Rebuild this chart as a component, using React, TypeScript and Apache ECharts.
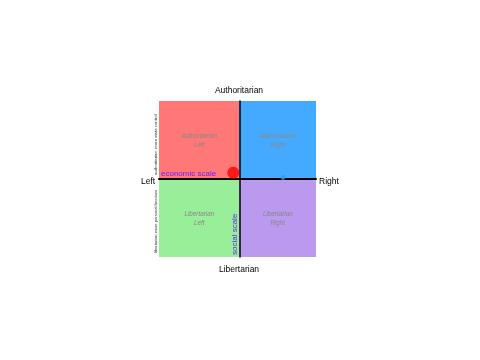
import React, { useEffect, useRef } from "react";
import * as echarts from "echarts";

const quadrantNames = ["Authoritarian\nLeft", "Authoritarian\nRight", "Libertarian\nLeft", "Libertarian\nRight"];
const quadrantColors = ["#ff7777", "#44aaff", "#99ee99", "#bb99ee"];
const axisTitles = { top: "Authoritarian", bottom: "Libertarian", left: "Left", right: "Right" };
const xBounds = [-10, 9.5];
const yBounds = [-10, 10];
const positions = [
  { name: "you", value: [-0.78, 0.8], color: "#ff0000", size: 12 },
  { name: "other", value: [5.4, 0.2], color: "#3399ee", size: 5 },
];
const sideNotes = ["authoritarian: more state control", "libertarian: more personal freedom"];

const FONT = "Liberation Sans";

export default function App() {
  const ref = useRef<HTMLDivElement>(null);
  useEffect(() => {
    const chart = echarts.init(ref.current!, null, { renderer: "svg" });
    const qLabel = {
      show: true,
      position: "inside",
      color: "#888",
      fontStyle: "italic",
      fontSize: 6.3,
      lineHeight: 9,
      fontFamily: FONT,
    };
    const [x0, x1] = xBounds;
    const [y0, y1] = yBounds;
    const areas = [
      [[x0, y1], [0, 0]],
      [[0, y1], [x1, 0]],
      [[x0, 0], [0, y0]],
      [[0, 0], [x1, y0]],
    ].map((a, i) => [
      { coord: a[0], name: quadrantNames[i], itemStyle: { color: quadrantColors[i], opacity: 1 }, label: qLabel },
      { coord: a[1] },
    ]);
    const t = (o: any) => ({ type: "text", z: 100, ...o });
    chart.setOption({
      animation: false,
      grid: { left: 159, right: 164, top: 101, bottom: 103 },
      xAxis: {
        type: "value", min: x0, max: x1,
        axisLine: { onZero: true, lineStyle: { color: "#000", width: 2 } },
        axisTick: { show: false }, axisLabel: { show: false }, splitLine: { show: false },
        z: 10,
      },
      yAxis: {
        type: "value", min: y0, max: y1,
        axisLine: { onZero: true, lineStyle: { color: "#000", width: 1.5 } },
        axisTick: { show: false }, axisLabel: { show: false }, splitLine: { show: false },
        z: 10,
      },
      series: [
        {
          type: "scatter",
          z: 20,
          data: positions.map((p) => ({ value: p.value, symbolSize: p.size, itemStyle: { color: p.color } })),
          markArea: { silent: true, data: areas },
        },
      ],
      graphic: [
        t({ x: 239, y: 90, style: { text: axisTitles.top, fontSize: 8.5, fontFamily: FONT, fill: "#000", align: "center", verticalAlign: "middle" } }),
        t({ x: 239, y: 269, style: { text: axisTitles.bottom, fontSize: 8.5, fontFamily: FONT, fill: "#000", align: "center", verticalAlign: "middle" } }),
        t({ x: 141, y: 181, style: { text: axisTitles.left, fontSize: 8.5, fontFamily: FONT, fill: "#000", align: "left", verticalAlign: "middle" } }),
        t({ x: 319, y: 181, style: { text: axisTitles.right, fontSize: 8.5, fontFamily: FONT, fill: "#000", align: "left", verticalAlign: "middle" } }),
        t({ x: 161, y: 173, style: { text: "economic scale", fontSize: 8, fontFamily: FONT, fill: "#6622ff", align: "left", verticalAlign: "middle" } }),
        t({ x: 234, y: 255, rotation: Math.PI / 2, style: { text: "social scale", fontSize: 8, fontFamily: FONT, fill: "#6622ff", align: "left", verticalAlign: "middle" } }),
        t({ x: 155, y: 175, rotation: Math.PI / 2, style: { text: sideNotes[0], fontSize: 4.3, fontFamily: FONT, fill: "#333", align: "left", verticalAlign: "middle" } }),
        t({ x: 155, y: 253, rotation: Math.PI / 2, style: { text: sideNotes[1], fontSize: 4.1, fontFamily: FONT, fill: "#333", align: "left", verticalAlign: "middle" } }),
      ],
    });
    return () => chart.dispose();
  }, []);
  return <div ref={ref} style={{ position: "fixed", left: 0, top: 0, width: 480, height: 360 }} />;
}
